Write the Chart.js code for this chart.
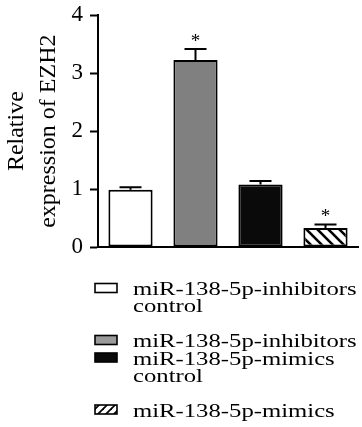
<!DOCTYPE html>
<html><head><meta charset="utf-8">
<script src="https://cdn.jsdelivr.net/npm/chart.js@4"></script>
<style>html,body{margin:0;padding:0;background:#fff;}#wrap{width:362px;height:427px;position:relative}</style>
</head><body><div id="wrap"><canvas id="c"></canvas></div>
<script>
// ---- data ----
const categories = [["miR-138-5p-inhibitors","control"],["miR-138-5p-inhibitors"],["miR-138-5p-mimics","control"],["miR-138-5p-mimics"]];
const values = [0.99, 3.23, 1.08, 0.33];
const errors = [0.04, 0.19, 0.06, 0.06];
const significant = [false, true, false, true];
const yTicks = [0, 1, 2, 3, 4];
const yTitle = ["Relative", "expression of EZH2"];

// ---- styles ----
const SERIF = "'Liberation Serif', 'Times New Roman', serif";
function hatch(period, dir, lw) {
  const c = document.createElement('canvas');
  c.width = period; c.height = period;
  const g = c.getContext('2d');
  g.fillStyle = '#fff'; g.fillRect(0, 0, period, period);
  g.strokeStyle = '#000'; g.lineWidth = lw;
  for (let k = -1; k <= 1; k++) {
    g.beginPath();
    if (dir === '\\') { g.moveTo(k * period - 2, -2); g.lineTo(k * period + period + 2, period + 2); }
    else { g.moveTo(k * period - 2, period + 2); g.lineTo(k * period + period + 2, -2); }
    g.stroke();
  }
  return g.createPattern(c, 'repeat');
}
const barFills = ['#ffffff', '#808080', '#0a0a0a', hatch(11, '\\', 2.6)];
const legendFills = ['#ffffff', '#9a9a9a', '#0a0a0a', hatch(8, '/', 1.8)];

const errorPlugin = {
  id: 'errs',
  afterDatasetsDraw(chart) {
    const ctx = chart.ctx, ys = chart.scales.y;
    const meta = chart.getDatasetMeta(0);
    ctx.save();
    ctx.strokeStyle = '#000'; ctx.lineWidth = 2;
    meta.data.forEach((el, i) => {
      const yTop = ys.getPixelForValue(values[i] + errors[i]);
      ctx.beginPath();
      ctx.moveTo(el.x, el.y); ctx.lineTo(el.x, yTop);
      ctx.moveTo(el.x - 11, yTop); ctx.lineTo(el.x + 11, yTop);
      ctx.stroke();
      if (significant[i]) {
        ctx.fillStyle = '#000';
        ctx.font = '19px ' + SERIF;
        ctx.textAlign = 'center'; ctx.textBaseline = 'alphabetic';
        ctx.fillText('*', el.x, yTop - 2);
      }
    });
    ctx.restore();
  }
};

const legendPlugin = {
  id: 'leg',
  afterDraw(chart) {
    const ctx = chart.ctx;
    let yc = chart.chartArea.bottom + 41;
    ctx.save();
    categories.forEach((lines, i) => {
      ctx.fillStyle = legendFills[i];
      ctx.fillRect(95, yc - 4.5, 22, 9);
      ctx.strokeStyle = '#000'; ctx.lineWidth = 1.6;
      ctx.strokeRect(95, yc - 4.5, 22, 9);
      ctx.fillStyle = '#000';
      ctx.font = '19px ' + SERIF;
      ctx.textAlign = 'left'; ctx.textBaseline = 'alphabetic';
      lines.forEach((t, j) => {
        ctx.save();
        ctx.translate(133, yc + 7 + j * 17);
        ctx.scale(1.3, 1);
        ctx.fillText(t, 0, 0);
        ctx.restore();
      });
      yc += lines.length > 1 ? 52 : 17.5;
    });
    ctx.restore();
  }
};

new Chart(document.getElementById('c'), {
  type: 'bar',
  data: {
    labels: categories,
    datasets: [{
      data: values,
      backgroundColor: barFills,
      borderColor: '#000',
      borderWidth: 2,
      borderSkipped: false,
      barPercentage: 0.68,
      categoryPercentage: 1
    }]
  },
  options: {
    responsive: true, maintainAspectRatio: false, animation: false,
    layout: { padding: { top: 0, right: 4, bottom: 180, left: 0 } },
    plugins: { legend: { display: false }, tooltip: { enabled: false } },
    scales: {
      x: {
        ticks: { display: false },
        grid: { display: false, drawTicks: false },
        border: { display: true, color: '#000', width: 2 }
      },
      y: {
        min: 0, max: 4,
        afterBuildTicks(s) { s.ticks = yTicks.map(v => ({ value: v })); },
        afterFit(s) { s.width = 98; },
        ticks: { color: '#000', font: { family: SERIF, size: 23, lineHeight: 0.72 }, padding: 7 },
        grid: { drawOnChartArea: false, drawTicks: true, tickLength: 8, tickColor: '#000', tickWidth: 2 },
        border: { display: true, color: '#000', width: 2 },
        title: { display: true, text: yTitle, color: '#000', font: { family: SERIF, size: 24, lineHeight: 1.33 }, padding: { top: 1, bottom: 0 } }
      }
    }
  },
  plugins: [errorPlugin, legendPlugin]
});
</script></body></html>
